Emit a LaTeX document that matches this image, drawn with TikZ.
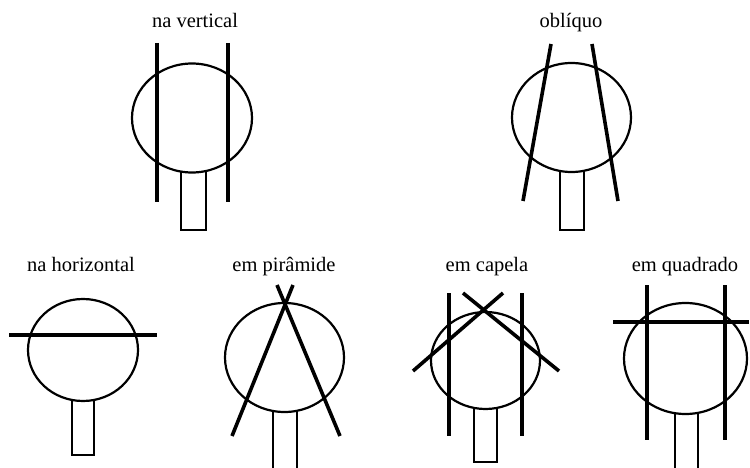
\documentclass[tikz,border=0pt]{standalone}
\usepackage{fontspec}
\setmainfont{Liberation Serif}
\usetikzlibrary{shapes.geometric}
\begin{document}
\begin{tikzpicture}[x=1pt,y=-1pt,
  ell/.style={ellipse,draw,line width=2.2pt,inner sep=0pt,outer sep=0pt},
  bar/.style={line width=3.6pt},
  stem/.style={line width=2.6pt,line join=miter},
  lbl/.style={anchor=base,font=\fontsize{20.5}{22}\selectfont,inner sep=0pt}]
\useasboundingbox (0,0) rectangle (750,468);
% labels
\node[lbl] (t1) at (195,28) {na vertical};
\node[lbl] (t2) at (571,28) {oblíquo};
\node[lbl] (t3) at (81,271) {na horizontal};
\node[lbl] (t4) at (284,271) {em pirâmide};
\node[lbl] (t5) at (487,271) {em capela};
\node[lbl] (t6) at (685,271) {em quadrado};
% 1 na vertical
\node[ell,minimum width=120pt,minimum height=109pt] (c1) at (192,118) {};
\draw[bar] (157,43) -- (157,202);
\draw[bar] (228,43) -- (228,202);
\draw[stem] (181,171) -- (181,230) -- (206,230) -- (206,171);
% 2 obliquo
\node[ell,minimum width=119pt,minimum height=109pt] (c2) at (571.5,117.5) {};
\draw[bar] (551,44) -- (523,201);
\draw[bar] (592,44) -- (618,201);
\draw[stem] (560,171) -- (560,230) -- (584,230) -- (584,171);
% 3 na horizontal
\node[ell,minimum width=110pt,minimum height=102pt] (c3) at (83,350) {};
\draw[bar] (9,335) -- (157,335);
\draw[stem] (72,400) -- (72,455) -- (94,455) -- (94,400);
% 4 em piramide
\node[ell,minimum width=119pt,minimum height=109pt] (c4) at (284.5,357.5) {};
\draw[bar] (277,285) -- (340,436);
\draw[bar] (293,285) -- (232,436);
\draw[stem] (273,411) -- (273,470);
\draw[stem] (297,411) -- (297,470);
% 5 em capela
\node[ell,minimum width=109pt,minimum height=97pt] (c5) at (485.5,360.5) {};
\draw[bar] (449,293) -- (449,436);
\draw[bar] (522,293) -- (522,436);
\draw[bar] (413,371) -- (503,293);
\draw[bar] (463,293) -- (559,371);
\draw[stem] (474,408) -- (474,462) -- (497,462) -- (497,408);
% 6 em quadrado
\node[ell,minimum width=123pt,minimum height=111pt] (c6) at (685.5,358.5) {};
\draw[bar] (647,285) -- (647,440);
\draw[bar] (725,285) -- (725,440);
\draw[bar] (613,322) -- (749,322);
\draw[stem] (675,413) -- (675,470);
\draw[stem] (698,413) -- (698,470);
\end{tikzpicture}
\end{document}
